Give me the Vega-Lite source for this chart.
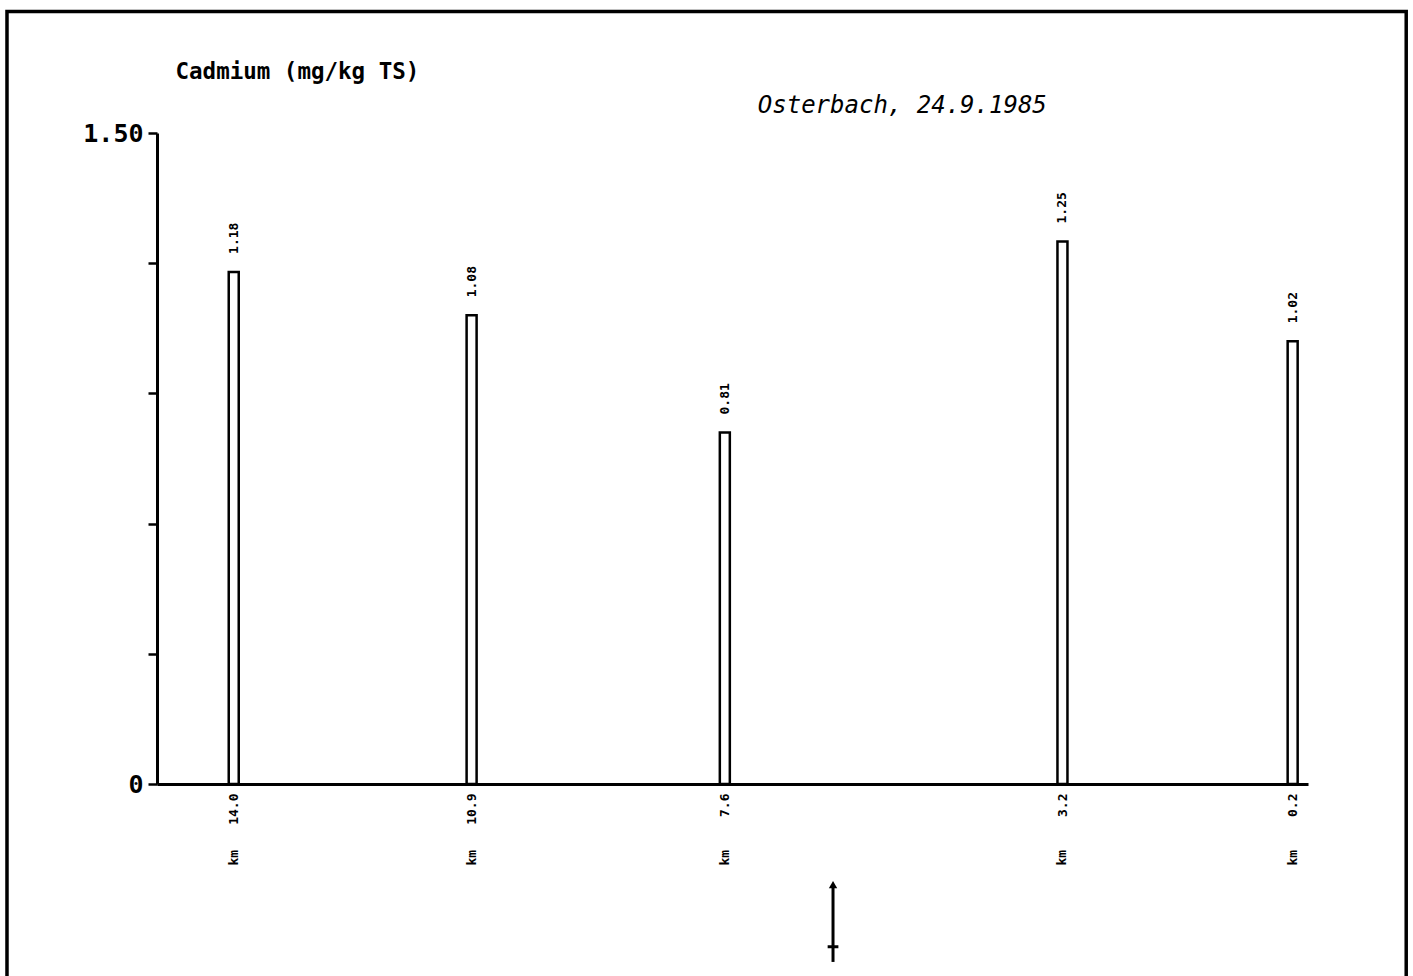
{
  "$schema": "https://vega.github.io/schema/vega-lite/v6.json",
  "width": 1151,
  "height": 651,
  "autosize": {"type": "none"},
  "padding": {"left": 157, "top": 133, "right": 105, "bottom": 192},
  "background": "white",
  "config": {"view": {"stroke": null}, "font": "DejaVu Sans Mono"},
  "data": {"values": [
    {"km": 14.0, "cd": 1.18},
    {"km": 10.9, "cd": 1.08},
    {"km": 7.6, "cd": 0.81},
    {"km": 3.2, "cd": 1.25},
    {"km": 0.2, "cd": 1.02}
  ]},
  "layer": [
    {
      "mark": {"type": "bar", "orient": "vertical", "size": 10, "fill": "white", "stroke": "black", "strokeWidth": 2.5},
      "encoding": {
        "x": {"field": "km", "type": "quantitative", "scale": {"domain": [0, 15], "reverse": true, "padding": 0},
          "axis": {"values": [14, 10.9, 7.6, 3.2, 0.2], "format": ".1f", "labelAngle": 270, "ticks": false, "grid": false,
            "domainWidth": 3, "domainColor": "black", "labelFontSize": 13, "labelFontWeight": "bold", "labelColor": "black",
            "labelPadding": 9, "labelFlush": false, "labelOverlap": false, "title": null, "labelFont": "DejaVu Sans Mono"}},
        "y": {"field": "cd", "type": "quantitative", "scale": {"domain": [0, 1.5], "padding": 0},
          "axis": {"values": [0, 0.3, 0.6, 0.9, 1.2, 1.5],
            "labelExpr": "datum.value == 0 ? '0' : datum.value == 1.5 ? '1.50' : ''",
            "grid": false, "tickSize": 9, "tickWidth": 2.5, "tickColor": "black", "domainColor": "black", "domainWidth": 3,
            "labelFontSize": 25, "labelFont": "DejaVu Sans Mono", "labelFontWeight": "bold", "labelColor": "black",
            "labelPadding": 5, "labelFlush": false,
            "title": "Cadmium (mg/kg TS)", "titleAngle": 0, "titleAlign": "left", "titleBaseline": "alphabetic",
            "titleX": 18, "titleY": -55, "titleFontSize": 22.5, "titleFontWeight": "bold", "titleColor": "black",
            "titleFont": "DejaVu Sans Mono"}}
      }
    },
    {
      "mark": {"type": "text", "angle": 270, "align": "left", "baseline": "middle", "dx": 18, "fontSize": 13, "fontWeight": "bold", "font": "DejaVu Sans Mono", "color": "black"},
      "encoding": {
        "x": {"field": "km", "type": "quantitative", "scale": {"domain": [0, 15], "reverse": true, "padding": 0}},
        "y": {"field": "cd", "type": "quantitative", "scale": {"domain": [0, 1.5], "padding": 0}},
        "text": {"field": "cd", "type": "quantitative", "format": ".2f"}
      }
    },
    {
      "mark": {"type": "text", "angle": 270, "align": "center", "baseline": "middle", "fontSize": 13, "fontWeight": "bold", "font": "DejaVu Sans Mono", "color": "black"},
      "encoding": {
        "x": {"field": "km", "type": "quantitative", "scale": {"domain": [0, 15], "reverse": true, "padding": 0}},
        "y": {"datum": -0.17, "type": "quantitative", "scale": {"domain": [0, 1.5], "padding": 0}},
        "text": {"value": "km"}
      }
    },
    {
      "data": {"values": [{"label": "Osterbach, 24.9.1985"}]},
      "mark": {"type": "text", "align": "left", "baseline": "alphabetic", "fontSize": 24, "fontStyle": "italic", "font": "DejaVu Sans Mono", "color": "black"},
      "encoding": {
        "x": {"datum": 7.17, "type": "quantitative", "scale": {"domain": [0, 15], "reverse": true, "padding": 0}},
        "y": {"datum": 1.546, "type": "quantitative", "scale": {"domain": [0, 1.5], "padding": 0}},
        "text": {"field": "label"}
      }
    },
    {
      "data": {"values": [{"a": 1}]},
      "mark": {"type": "rule", "color": "black", "strokeWidth": 3},
      "encoding": {
        "x": {"datum": 6.19, "type": "quantitative", "scale": {"domain": [0, 15], "reverse": true, "padding": 0}},
        "y": {"datum": -0.235, "type": "quantitative", "scale": {"domain": [0, 1.5], "padding": 0}},
        "y2": {"datum": -0.41}
      }
    },
    {
      "data": {"values": [{"a": 1}]},
      "mark": {"type": "point", "shape": "triangle-up", "filled": true, "size": 70, "color": "black", "opacity": 1},
      "encoding": {
        "x": {"datum": 6.19, "type": "quantitative", "scale": {"domain": [0, 15], "reverse": true, "padding": 0}},
        "y": {"datum": -0.232, "type": "quantitative", "scale": {"domain": [0, 1.5], "padding": 0}}
      }
    },
    {
      "data": {"values": [{"a": 1}]},
      "mark": {"type": "rule", "color": "black", "strokeWidth": 3},
      "encoding": {
        "x": {"datum": 6.26, "type": "quantitative", "scale": {"domain": [0, 15], "reverse": true, "padding": 0}},
        "x2": {"datum": 6.12},
        "y": {"datum": -0.375, "type": "quantitative", "scale": {"domain": [0, 1.5], "padding": 0}}
      }
    },
    {
      "data": {"values": [{"a": 1}]},
      "mark": {"type": "rect", "fill": "white", "fillOpacity": 0, "stroke": "black", "strokeWidth": 3.5},
      "encoding": {
        "x": {"datum": 16.955, "type": "quantitative", "scale": {"domain": [0, 15], "reverse": true, "padding": 0}},
        "x2": {"datum": -1.28},
        "y": {"datum": 1.78, "type": "quantitative", "scale": {"domain": [0, 1.5], "padding": 0}},
        "y2": {"datum": -0.5}
      }
    }
  ]
}
